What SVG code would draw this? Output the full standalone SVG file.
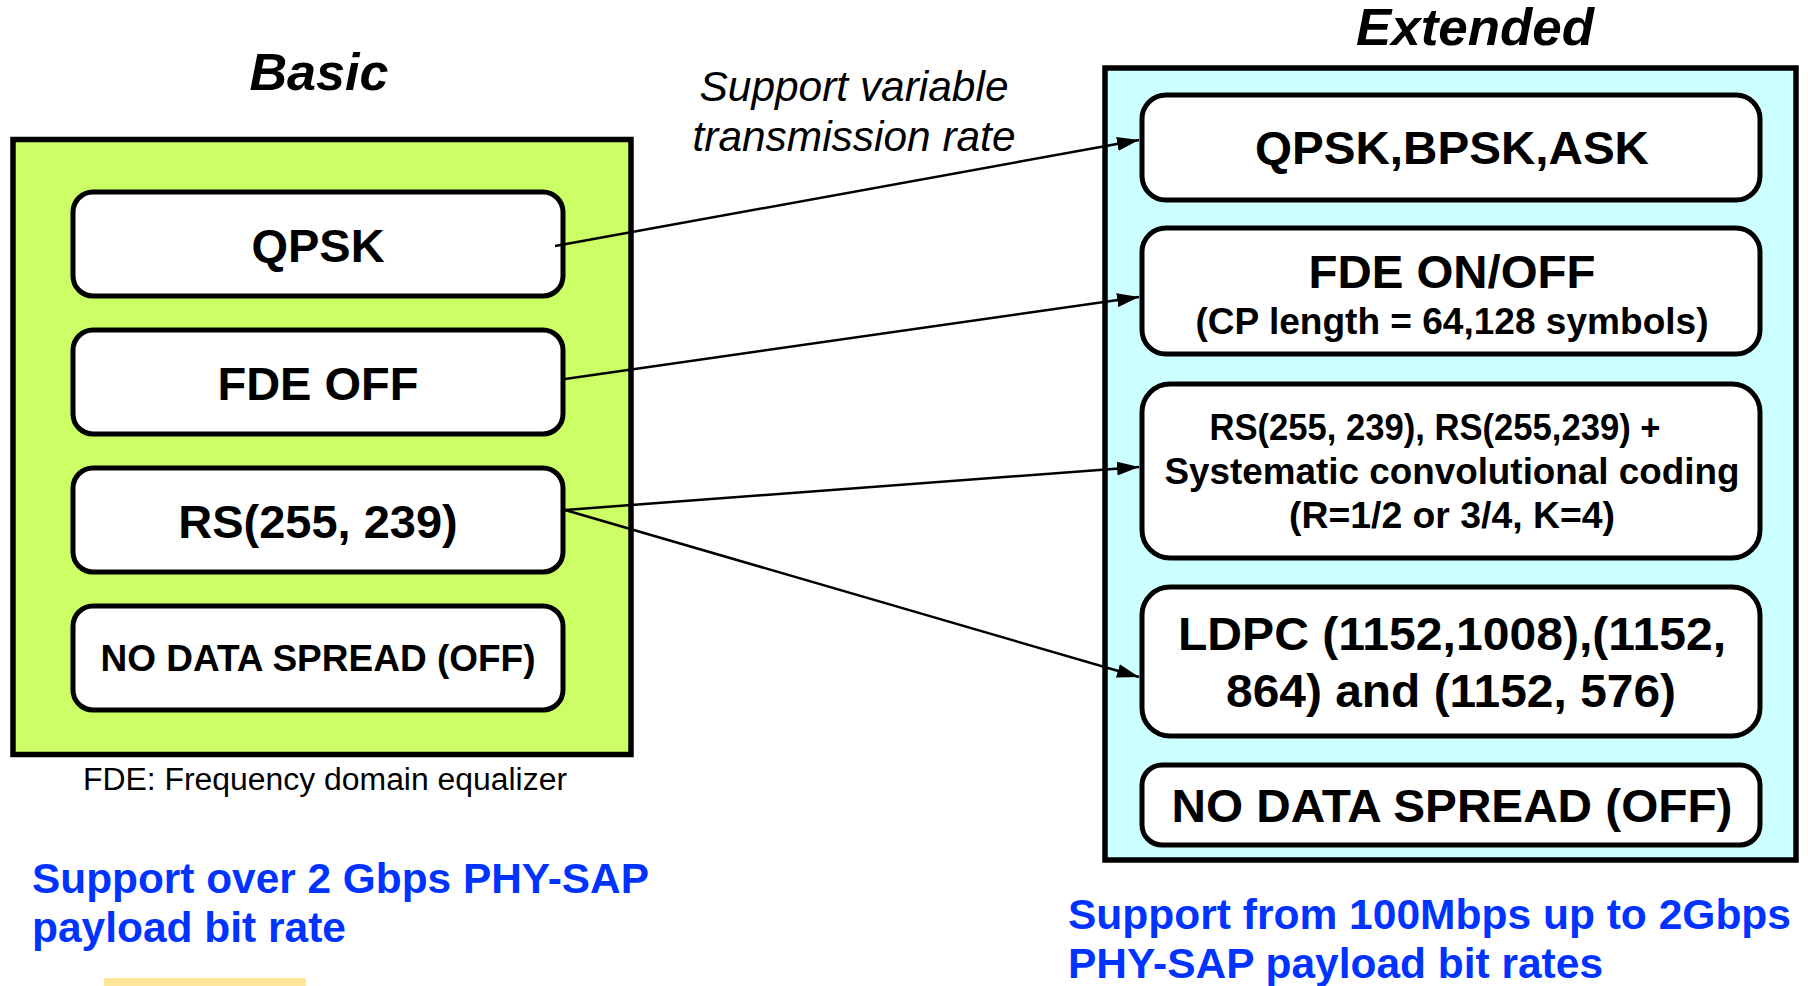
<svg xmlns="http://www.w3.org/2000/svg" width="1808" height="986" viewBox="0 0 1808 986">
<style>
text{font-family:"Liberation Sans",Arial,sans-serif;fill:#000}
.title{font-size:52px;font-weight:bold;font-style:italic;text-anchor:middle}
.big{font-size:47px;font-weight:bold;text-anchor:middle}
.mid{font-size:36px;font-weight:bold;text-anchor:middle}
.node{fill:#fff;stroke:#000;stroke-width:5}
.blue{font-size:42px;font-weight:bold;fill:#0033FF}
.conn{stroke:#000;stroke-width:2.5;fill:none;marker-end:url(#ah)}
</style>
<defs>
<marker id="ah" viewBox="0 0 22 14" refX="22" refY="7" markerWidth="22" markerHeight="14" markerUnits="userSpaceOnUse" orient="auto"><path d="M0,0 L22,7 L0,14 z" fill="#000"/></marker>
</defs>
<rect width="1808" height="986" fill="#fff"/>

<g id="basic">
<text class="title" x="319" y="90" textLength="139" lengthAdjust="spacingAndGlyphs">Basic</text>
<rect x="13" y="139.5" width="618" height="615" fill="#CCFF66" stroke="#000" stroke-width="5.5"/>
</g>
<g id="b-qpsk"><rect class="node" x="73" y="192" width="490" height="104" rx="20"/><text class="big" x="318" y="262">QPSK</text></g>
<g id="b-fde"><rect class="node" x="73" y="330" width="490" height="104" rx="20"/><text class="big" x="318" y="400">FDE OFF</text></g>
<g id="b-rs"><rect class="node" x="73" y="468" width="490" height="104" rx="20"/><text class="big" x="318" y="538">RS(255, 239)</text></g>
<g id="b-spread"><rect class="node" x="73" y="606" width="490" height="104" rx="20"/><text class="mid" x="318" y="671" textLength="435" lengthAdjust="spacingAndGlyphs">NO DATA SPREAD (OFF)</text></g>
<text x="325" y="790" font-size="31" text-anchor="middle" textLength="484" lengthAdjust="spacingAndGlyphs">FDE: Frequency domain equalizer</text>
<text class="blue" x="32" y="893" textLength="617" lengthAdjust="spacingAndGlyphs">Support over 2 Gbps PHY-SAP</text>
<text class="blue" x="32" y="942" textLength="314" lengthAdjust="spacingAndGlyphs">payload bit rate</text>
<rect x="104" y="978" width="202" height="8" fill="#FFE699"/>

<g id="extended">
<text class="title" x="1475" y="45" textLength="238" lengthAdjust="spacingAndGlyphs">Extended</text>
<rect x="1105" y="68" width="691" height="792" fill="#CCFFFF" stroke="#000" stroke-width="5.5"/>
</g>
<g id="e-mod"><rect class="node" x="1142" y="95" width="618" height="105" rx="24"/><text class="big" x="1452" y="164" textLength="394" lengthAdjust="spacingAndGlyphs">QPSK,BPSK,ASK</text></g>
<g id="e-fde"><rect class="node" x="1142" y="228" width="618" height="126" rx="24"/><text class="big" x="1452" y="288" textLength="287" lengthAdjust="spacingAndGlyphs">FDE ON/OFF</text><text class="mid" x="1452" y="334" textLength="513" lengthAdjust="spacingAndGlyphs">(CP length = 64,128 symbols)</text></g>
<g id="e-rs"><rect class="node" x="1142" y="384" width="618" height="174" rx="28"/>
<text class="mid" x="1435" y="440" textLength="451" lengthAdjust="spacingAndGlyphs">RS(255, 239), RS(255,239) +</text>
<text class="mid" x="1452" y="484" textLength="575" lengthAdjust="spacingAndGlyphs">Systematic convolutional coding</text>
<text class="mid" x="1452" y="528" textLength="326" lengthAdjust="spacingAndGlyphs">(R=1/2 or 3/4, K=4)</text></g>
<g id="e-ldpc"><rect class="node" x="1142" y="587" width="618" height="149" rx="28"/>
<text class="big" x="1452" y="650" textLength="548" lengthAdjust="spacingAndGlyphs">LDPC (1152,1008),(1152,</text>
<text class="big" x="1451" y="707" textLength="450" lengthAdjust="spacingAndGlyphs">864) and (1152, 576)</text></g>
<g id="e-spread"><rect class="node" x="1142" y="765" width="618" height="80" rx="20"/><text class="big" x="1452" y="822" textLength="561" lengthAdjust="spacingAndGlyphs">NO DATA SPREAD (OFF)</text></g>
<text class="blue" x="1068" y="929" textLength="723" lengthAdjust="spacingAndGlyphs">Support from 100Mbps up to 2Gbps</text>
<text class="blue" x="1068" y="978" textLength="535" lengthAdjust="spacingAndGlyphs">PHY-SAP payload bit rates</text>

<text x="854" y="101" font-size="42" font-style="italic" text-anchor="middle" textLength="309" lengthAdjust="spacingAndGlyphs">Support variable</text>
<text x="854" y="151" font-size="42" font-style="italic" text-anchor="middle" textLength="323" lengthAdjust="spacingAndGlyphs">transmission rate</text>

<g id="connectors">
<line class="conn" x1="555" y1="246" x2="1139" y2="140"/>
<line class="conn" x1="565" y1="379" x2="1139" y2="297"/>
<line class="conn" x1="565" y1="510" x2="1139" y2="467"/>
<line class="conn" x1="565" y1="510" x2="1139" y2="677"/>
</g>
</svg>
